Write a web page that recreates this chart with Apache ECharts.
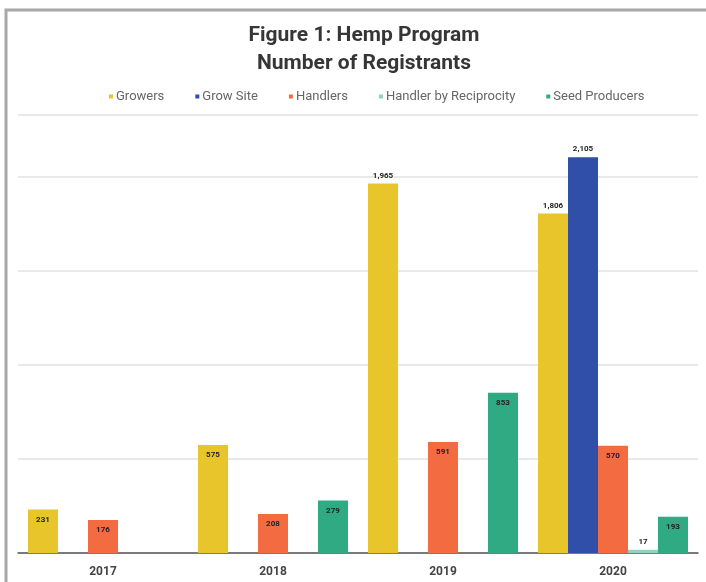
<!DOCTYPE html>
<html>
<head>
<meta charset="utf-8">
<script src="https://cdn.jsdelivr.net/npm/echarts@6/dist/echarts.min.js"></script>
<style>
html,body{margin:0;padding:0;background:#fff;}
#chart{width:706px;height:582px;}
</style>
</head>
<body>
<div id="chart"></div>
<script>
const years = ['2017', '2018', '2019', '2020'];
const seriesNames = ['Growers', 'Grow Site', 'Handlers', 'Handler by Reciprocity', 'Seed Producers'];
const growers = [231, 575, 1965, 1806];
const growSite = [null, null, null, 2105];
const handlers = [176, 208, 591, 570];
const reciprocity = [null, null, null, 17];
const seedProducers = [null, 279, 853, 193];
const colors = ['#E9C52C', '#2F4FA8', '#F36B40', '#8ED3BE', '#2FAA82'];

const allValues = [growers, growSite, handlers, reciprocity, seedProducers];

function fmt(v) { return v.toLocaleString('en-US'); }

const chart = echarts.init(document.getElementById('chart'), null, {renderer: 'canvas'});

const series = allValues.map((vals, i) => ({
  name: seriesNames[i],
  type: 'bar',
  barGap: '0%',
  barCategoryGap: '11.76%',
  itemStyle: { color: colors[i] },
  data: vals.map(v => {
    if (v == null) return null;
    const outside = v > 1000 || v < 50;
    return {
      value: v,
      label: {
        show: true,
        position: outside ? 'top' : 'insideTop',
        distance: outside ? 4 : 6,
        formatter: p => fmt(p.value),
        fontSize: 8,
        fontWeight: 'bold',
        color: '#222',
        fontFamily: 'Roboto, sans-serif'
      }
    };
  })
}));

chart.setOption({
  animation: false,
  backgroundColor: '#fff',
  title: {
    text: 'Figure 1: Hemp Program\nNumber of Registrants',
    left: 359,
    textAlign: 'center',
    top: 17,
    textStyle: {
      fontSize: 21,
      fontWeight: 'bold',
      color: '#363636',
      lineHeight: 28,
      fontFamily: 'Roboto, sans-serif'
    }
  },
  legend: {
    top: 85,
    left: 104,
    icon: 'rect',
    itemWidth: 4,
    itemHeight: 4,
    itemGap: 31,
    textStyle: { fontSize: 13, color: '#666', fontFamily: 'Roboto, sans-serif', padding: [0, 0, 0, -2] },
    data: seriesNames
  },
  grid: { left: 18, right: 8, top: 115, bottom: 29, containLabel: false },
  xAxis: {
    type: 'category',
    data: years,
    axisLine: { lineStyle: { color: '#555', width: 1.5 } },
    axisTick: { show: false },
    axisLabel: { fontSize: 12, color: '#444', fontWeight: 'bold', margin: 13, fontFamily: 'Roboto, sans-serif' }
  },
  yAxis: {
    type: 'value',
    min: 0,
    max: 2330,
    interval: 500,
    axisLabel: { show: false },
    axisLine: { show: false },
    axisTick: { show: false },
    splitLine: { lineStyle: { color: '#e2e2e2', width: 1.5 } }
  },
  graphic: [{
    type: 'rect',
    shape: { x: 6, y: 10, width: 760, height: 640 },
    style: { fill: 'none', stroke: '#a8a8a8', lineWidth: 3 },
    silent: true,
    z: 100
  }],
  series: series
});
</script>
</body>
</html>
